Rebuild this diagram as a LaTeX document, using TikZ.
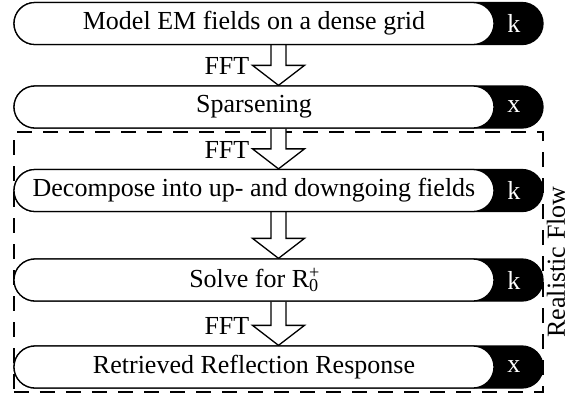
\documentclass[tikz,border=0pt]{standalone}
\usepackage{fontspec}
\setmainfont{Liberation Serif}
\usetikzlibrary{positioning, calc, backgrounds}

\tikzset{
  back/.style={fill=black, draw=black, line width=1.3bp, rounded corners=21bp,
    minimum width=529bp, minimum height=42bp, inner sep=0pt},
  stage/.style={fill=white, draw=black, line width=1.3bp, rounded corners=21bp,
    minimum width=480bp, minimum height=42bp, inner sep=0pt,
    font=\fontsize{26bp}{30bp}\selectfont},
  tag/.style={text=white, inner sep=0pt, font=\fontsize{26bp}{30bp}\selectfont},
  blockarrow/.style={draw=black, fill=white, line width=1.3bp, line join=miter},
  fft/.style={inner sep=0pt, font=\fontsize{26bp}{30bp}\selectfont},
  frame/.style={draw=black, line width=1.3bp, dash pattern=on 15bp off 11bp,
    minimum width=529bp, minimum height=260bp, inner sep=0pt},
  sidelabel/.style={inner sep=3bp, font=\fontsize{26bp}{30bp}\selectfont}
}

% hollow block arrow from box to box, #3 names the left corner of the head
\newcommand{\flowarrow}[3]{%
  \draw[blockarrow] ($(#1)+(-7.5,0)$) -- ($(#2)+(-7.5,-20)$)
    -- ($(#2)+(-26,-20)$) coordinate (#3) -- (#2)
    -- ($(#2)+(26,-20)$) -- ($(#2)+(7.5,-20)$) -- ($(#1)+(7.5,0)$);}

\begin{document}
\begin{tikzpicture}[x=1bp, y=-1bp]
    \useasboundingbox (0,0) rectangle (576,396);

    % steps
    \node[back] (b1) at (278.5,23.5) {};
    \node[stage] (s1) [right=0pt of b1.west] {Model EM fields on a dense grid};
    \node[tag] (t1) [left=23bp of b1.east] {k};

    \node[back] (b2) at (278.5,107) {};
    \node[stage] (s2) [right=0pt of b2.west] {Sparsening};
    \node[tag] (t2) [left=23bp of b2.east] {x};

    \node[back] (b3) at (278.5,190.5) {};
    \node[stage] (s3) [right=0pt of b3.west] {Decompose into up- and downgoing fields};
    \node[tag] (t3) [left=23bp of b3.east] {k};

    \node[back] (b4) at (278.5,280) {};
    \node[stage] (s4) [right=0pt of b4.west] {Solve for R\rlap{\textsuperscript{+}}\textsubscript{0}};
    \node[tag] (t4) [left=23bp of b4.east] {k};

    \node[back] (b5) at (278.5,367) {};
    \node[stage] (s5) [right=0pt of b5.west] {Retrieved Reflection Response};
    \node[tag] (t5) [left=23bp of b5.east] {x};

    % arrows and the realistic part
    \begin{scope}[on background layer]
        \node[frame] (flow) at (278.5,262) {};
        \flowarrow{b1.south}{b2.north}{h1}
        \flowarrow{b2.south}{b3.north}{h2}
        \flowarrow{b3.south}{b4.north}{h3}
        \flowarrow{b4.south}{b5.north}{h4}
    \end{scope}

    \node[fft] (f1) [left=3bp of h1, yshift=-1bp] {FFT};
    \node[fft] (f2) [left=3bp of h2, yshift=-1bp] {FFT};
    \node[fft] (f4) [left=3bp of h4, yshift=-1bp] {FFT};

    \node[sidelabel, rotate=90, anchor=north] (flowlabel) at (flow.east) {Realistic Flow};
\end{tikzpicture}
\end{document}
